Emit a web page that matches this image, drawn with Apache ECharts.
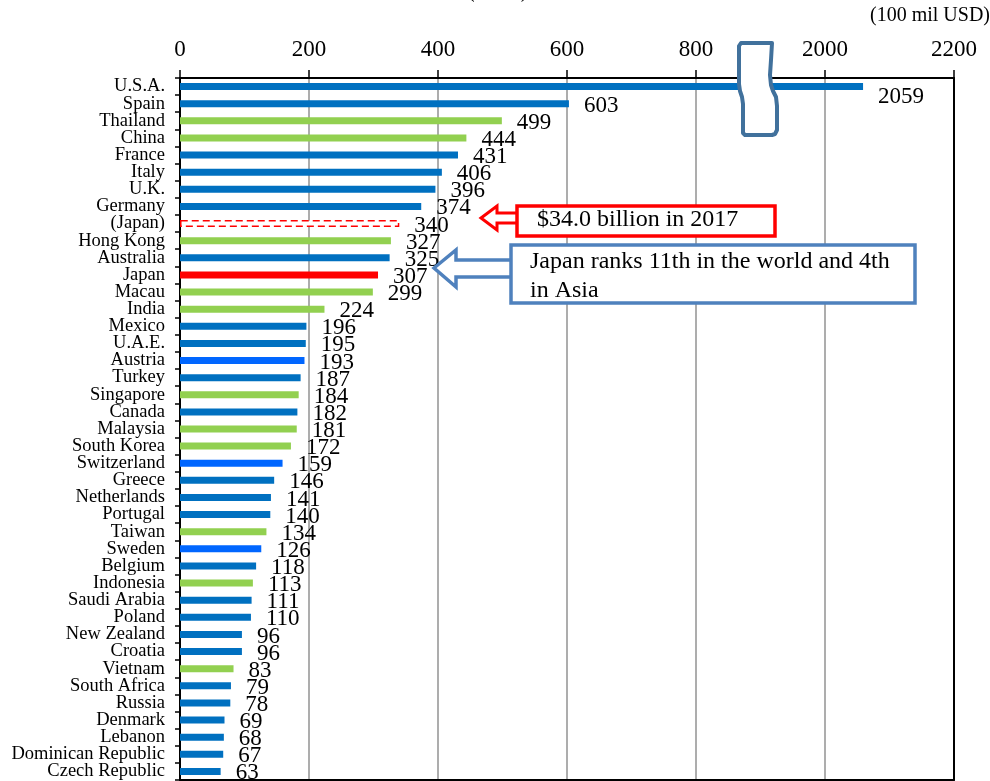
<!DOCTYPE html>
<html>
<head>
<meta charset="utf-8">
<script src="https://cdn.jsdelivr.net/npm/echarts@6/dist/echarts.min.js"></script>
<style>
  html, body { margin: 0; padding: 0; background: #fff; }
  #chart { width: 990px; height: 781px; }
</style>
</head>
<body>
<div id="chart"></div>
<script>
// International tourism receipts by country (unit: 100 million USD)
const categories = [
  'U.S.A.', 'Spain', 'Thailand', 'China', 'France', 'Italy', 'U.K.', 'Germany',
  '(Japan)', 'Hong Kong', 'Australia', 'Japan', 'Macau', 'India', 'Mexico',
  'U.A.E.', 'Austria', 'Turkey', 'Singapore', 'Canada', 'Malaysia', 'South Korea',
  'Switzerland', 'Greece', 'Netherlands', 'Portugal', 'Taiwan', 'Sweden',
  'Belgium', 'Indonesia', 'Saudi Arabia', 'Poland', 'New Zealand', 'Croatia',
  'Vietnam', 'South Africa', 'Russia', 'Denmark', 'Lebanon',
  'Dominican Republic', 'Czech Republic'
];
const receipts = [
  2059, 603, 499, 444, 431, 406, 396, 374,
  340, 327, 325, 307, 299, 224, 196,
  195, 193, 187, 184, 182, 181, 172,
  159, 146, 141, 140, 134, 126,
  118, 113, 111, 110, 96, 96,
  83, 79, 78, 69, 68,
  67, 63
];
// asia = Asian destinations, other = rest of world, alt = second blue shade,
// jp = Japan, jp17 = Japan 2017 figure
const groups = [
  'other', 'other', 'asia', 'asia', 'other', 'other', 'other', 'other',
  'jp17', 'asia', 'other', 'jp', 'asia', 'asia', 'other',
  'other', 'alt', 'other', 'asia', 'other', 'asia', 'asia',
  'alt', 'other', 'other', 'other', 'asia', 'alt',
  'other', 'asia', 'other', 'other', 'other', 'other',
  'asia', 'other', 'other', 'other', 'other',
  'other', 'other'
];
const tickLabels = ['0', '200', '400', '600', '800', '2000', '2200'];

// The scale is broken between 800 and 2000: values above the break are shifted
// down by this amount so that 2000 lands one tick after 800.
const BREAK_SHIFT = 1000;
const toAxis = v => (v > 900 ? v - BREAK_SHIFT : v);

const palette = {
  other: '#0070C0',
  alt: '#0066FF',
  asia: '#92D050',
  jp: '#FF0000'
};

const SERIF = "'Liberation Serif', 'Times New Roman', serif";

const barData = receipts.map((v, i) => {
  const g = groups[i];
  const item = { value: toAxis(v) };
  if (g === 'jp17') {
    item.itemStyle = { color: '#ffffff', borderColor: '#FF0000', borderWidth: 1.5, borderType: [7, 4] };
  } else {
    item.itemStyle = { color: palette[g] };
  }
  if (v > 900) {
    item.label = { offset: [0, 10] };
  }
  return item;
});

// outline of the wavy axis-break marker
const breakOutline = [
  [741, 43], [772, 43], [771, 60], [770, 75], [771, 85], [773, 91], [776, 97],
  [777, 106], [777, 130], [775, 134], [772, 135], [745, 135], [743, 133],
  [743, 104], [742, 97], [740, 91], [739, 84], [739, 46]
];

const chart = echarts.init(document.getElementById('chart'), null, { renderer: 'canvas' });

chart.setOption({
  animation: false,
  backgroundColor: '#ffffff',
  grid: { left: 180, right: 36, top: 78, bottom: 1, containLabel: false },
  xAxis: [
    {
      type: 'value', position: 'top', min: 0, max: 1200, interval: 200,
      axisLine: { show: true, lineStyle: { color: '#000', width: 2 } },
      axisTick: { show: true, length: 8, lineStyle: { color: '#000', width: 1.5 } },
      axisLabel: {
        margin: 17, color: '#000', fontFamily: SERIF, fontSize: 23,
        formatter: v => tickLabels[Math.round(v / 200)]
      },
      splitLine: { show: true, lineStyle: { color: '#999', width: 1.6 } }
    },
    {
      type: 'value', position: 'bottom', min: 0, max: 1200,
      axisLine: { show: true, onZero: false, lineStyle: { color: '#000', width: 2 } },
      axisTick: { show: false }, axisLabel: { show: false }, splitLine: { show: false }
    }
  ],
  yAxis: [
    {
      type: 'category', data: categories, inverse: true,
      axisLine: { show: true, lineStyle: { color: '#000', width: 2 } },
      axisTick: { show: true, length: 5, lineStyle: { color: '#000', width: 1.5 } },
      axisLabel: {
        margin: 15, color: '#000', fontFamily: SERIF, fontSize: 18.5,
        interval: 0
      },
      splitLine: { show: false }
    },
    {
      type: 'category', data: categories, inverse: true, position: 'right',
      axisLine: { show: true, onZero: false, lineStyle: { color: '#000', width: 2 } },
      axisTick: { show: false }, axisLabel: { show: false }, splitLine: { show: false }
    }
  ],
  series: [
    {
      type: 'bar', xAxisIndex: 0, yAxisIndex: 0,
      data: barData, barWidth: 7,
      label: {
        show: true, position: 'right', distance: 15, offset: [0, 2],
        color: '#000', fontFamily: SERIF, fontSize: 23,
        formatter: p => String(receipts[p.dataIndex])
      }
    }
  ],
  graphic: [
    // heading, mostly above the visible area
    {
      type: 'text', left: 467, top: -21, z: 100,
      style: { text: '(2017)', fill: '#000', font: "23px " + SERIF }
    },
    // unit
    {
      type: 'text', right: 0, top: 6, z: 100,
      style: { text: '(100 mil USD)', fill: '#000', font: "20px " + SERIF }
    },
    // axis break marker
    {
      type: 'polygon', z: 100,
      shape: { points: breakOutline },
      style: { fill: '#ffffff', stroke: '#41719C', lineWidth: 4, lineJoin: 'round' }
    },
    // 2017 callout
    {
      type: 'polygon', z: 100,
      shape: { points: [[481, 218], [497, 206], [497, 213], [518, 213], [518, 223], [497, 223], [497, 230]] },
      style: { fill: '#ffffff', stroke: '#FF0000', lineWidth: 3, lineJoin: 'miter' }
    },
    {
      type: 'rect', z: 100,
      shape: { x: 517, y: 206, width: 258, height: 30 },
      style: { fill: '#ffffff', stroke: '#FF0000', lineWidth: 3.5 }
    },
    {
      type: 'text', z: 101, left: 537, top: 208,
      style: { text: '$34.0 billion in 2017', fill: '#000', font: "24px " + SERIF }
    },
    // ranking callout
    {
      type: 'polygon', z: 100,
      shape: { points: [[434, 268], [456, 250], [456, 260], [512, 260], [512, 277], [456, 277], [456, 287]] },
      style: { fill: '#ffffff', stroke: '#4F81BD', lineWidth: 3.5, lineJoin: 'miter' }
    },
    {
      type: 'rect', z: 100,
      shape: { x: 511, y: 245, width: 404, height: 58 },
      style: { fill: '#ffffff', stroke: '#4F81BD', lineWidth: 3.5 }
    },
    {
      type: 'text', z: 101, left: 530, top: 247,
      style: {
        text: 'Japan ranks 11th in the world and 4th\nin Asia',
        fill: '#000', font: "24px " + SERIF, lineHeight: 29
      }
    }
  ]
});
</script>
</body>
</html>
